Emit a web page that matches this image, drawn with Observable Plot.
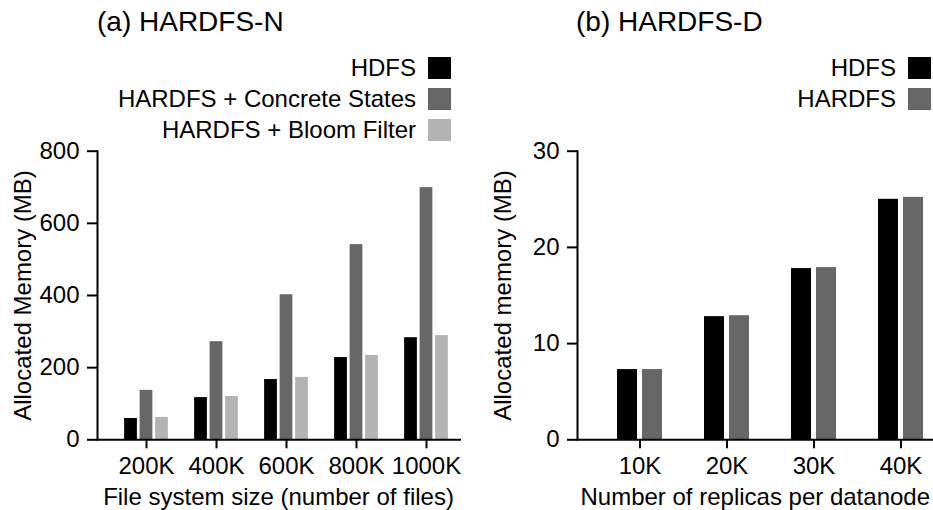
<!DOCTYPE html>
<html>
<head>
<meta charset="utf-8">
<script src="https://cdn.jsdelivr.net/npm/d3@7"></script>
<script src="https://cdn.jsdelivr.net/npm/@observablehq/plot@0.6"></script>
<style>
  html, body { margin: 0; padding: 0; background: #fff; overflow: hidden; }
  #root { position: relative; width: 933px; height: 510px; overflow: hidden; background: #fff;
          font-family: "Liberation Sans", Arial, Helvetica, sans-serif; color: #000; }
  .title { position: absolute; font-size: 28px; line-height: 28px; white-space: nowrap; }
  .legend { position: absolute; font-size: 24px; line-height: 24px; white-space: nowrap; }
  .legend .row { display: flex; justify-content: flex-end; align-items: center; height: 31px; }
  .legend .sw { width: 23px; height: 22px; margin-left: 12px; }
  .panel { position: absolute; top: 140px; width: 470px; height: 370px; }
  .panel svg { max-width: none !important; }
</style>
</head>
<body>
<div id="root"></div>
<script>
// ---------- data: (a) HARDFS-N ----------
const categoriesN = ["200K", "400K", "600K", "800K", "1000K"];
const hdfsN       = [59, 117, 167, 228, 283];
const concreteN   = [137, 272, 402, 541, 699];
const bloomN      = [62, 120, 173, 234, 289];
const yTicksN     = [0, 200, 400, 600, 800];
const seriesN     = ["HDFS", "HARDFS + Concrete States", "HARDFS + Bloom Filter"];

// ---------- data: (b) HARDFS-D ----------
const categoriesD = ["10K", "20K", "30K", "40K"];
const hdfsD       = [7.3, 12.8, 17.8, 25.0];
const hardfsD     = [7.3, 12.9, 17.9, 25.2];
const yTicksD     = [0, 10, 20, 30];
const seriesD     = ["HDFS", "HARDFS"];

const colorsN = ["#000000", "#676767", "#b3b3b3"];
const colorsD = ["#000000", "#676767"];

const FONT = '"Liberation Sans", Arial, Helvetica, sans-serif';

function makePanel(o) {
  const W = 470, H = 370, mL = 97, mT = 10.7, mB = 70.7;
  const n = o.categories.length;
  const rangeW = W - mL - o.marginRight;
  const bw = rangeW / (n + 2 * o.paddingOuter);   // paddingInner = 0 -> step = bandwidth
  const k = o.values.length;
  const groupW = (k - 1) * o.barStep + o.barW;
  const marks = [];
  o.values.forEach((vals, j) => {
    const rows = o.categories.map((c, i) => ({cat: c, value: vals[i], series: o.series[j]}));
    const left = bw / 2 - groupW / 2 + j * o.barStep;
    marks.push(Plot.barY(rows, {
      x: "cat", y: "value", fill: o.colors[j],
      insetLeft: left, insetRight: bw - left - o.barW
    }));
  });
  marks.push(Plot.ruleY([0], {stroke: "#000", strokeWidth: 2}));
  marks.push(Plot.frame({anchor: "left", stroke: "#000", strokeWidth: 2}));
  marks.push(Plot.axisY({
    ticks: o.yTicks, tickSize: 10, tickPadding: 8, strokeWidth: 2,
    label: o.ylabel, labelAnchor: "center", labelOffset: 84, labelArrow: "none"
  }));
  marks.push(Plot.axisX({
    tickSize: 9, tickPadding: 8, strokeWidth: 2, label: null
  }));
  marks.push(Plot.text([o.xlabel], {
    text: d => d, frameAnchor: "bottom", lineAnchor: "bottom", textAnchor: "middle",
    dy: 64.7, dx: o.xlabelDx, fontSize: 24, fill: "#000"
  }));
  return Plot.plot({
    width: W, height: H,
    marginLeft: mL, marginRight: o.marginRight, marginTop: mT, marginBottom: mB,
    x: {domain: o.categories, paddingInner: 0, paddingOuter: o.paddingOuter, align: 1, label: null},
    y: {domain: [0, o.yTicks[o.yTicks.length - 1]]},
    style: {fontFamily: FONT, fontSize: "24px", color: "#000", background: "transparent", overflow: "visible"},
    marks
  });
}

function legend(series, colors, rightPx) {
  const d = document.createElement("div");
  d.className = "legend";
  d.style.right = rightPx + "px";
  d.style.top = "52.5px";
  series.forEach((s, i) => {
    const r = document.createElement("div");
    r.className = "row";
    const t = document.createElement("span"); t.textContent = s;
    const sw = document.createElement("span"); sw.className = "sw"; sw.style.background = colors[i];
    r.appendChild(t); r.appendChild(sw);
    d.appendChild(r);
  });
  return d;
}

function title(text, left) {
  const d = document.createElement("div");
  d.className = "title";
  d.textContent = text;
  d.style.left = left + "px";
  d.style.top = "8.3px";
  return d;
}

const root = document.getElementById("root");

const pN = makePanel({
  categories: categoriesN, values: [hdfsN, concreteN, bloomN], series: seriesN, colors: colorsN,
  yTicks: yTicksN, ylabel: "Allocated Memory (MB)", xlabel: "File system size (number of files)",
  marginRight: 9, paddingOuter: 0.0907, barW: 13, barStep: 15.5, xlabelDx: -1
});
const wN = document.createElement("div"); wN.className = "panel"; wN.style.left = "0px"; wN.appendChild(pN);

const pD = makePanel({
  categories: categoriesD, values: [hdfsD, hardfsD], series: seriesD, colors: colorsD,
  yTicks: yTicksD, ylabel: "Allocated memory (MB)", xlabel: "Number of replicas per datanode",
  marginRight: 6.5, paddingOuter: 0.1063, barW: 20, barStep: 25, xlabelDx: -5.5
});
const wD = document.createElement("div"); wD.className = "panel"; wD.style.left = "480px"; wD.appendChild(pD);

root.appendChild(wN);
root.appendChild(wD);
root.appendChild(title("(a) HARDFS-N", 97));
root.appendChild(title("(b) HARDFS-D", 576));
root.appendChild(legend(seriesN, colorsN, 933 - 451));
root.appendChild(legend(seriesD, colorsD, 933 - 931));
</script>
</body>
</html>
